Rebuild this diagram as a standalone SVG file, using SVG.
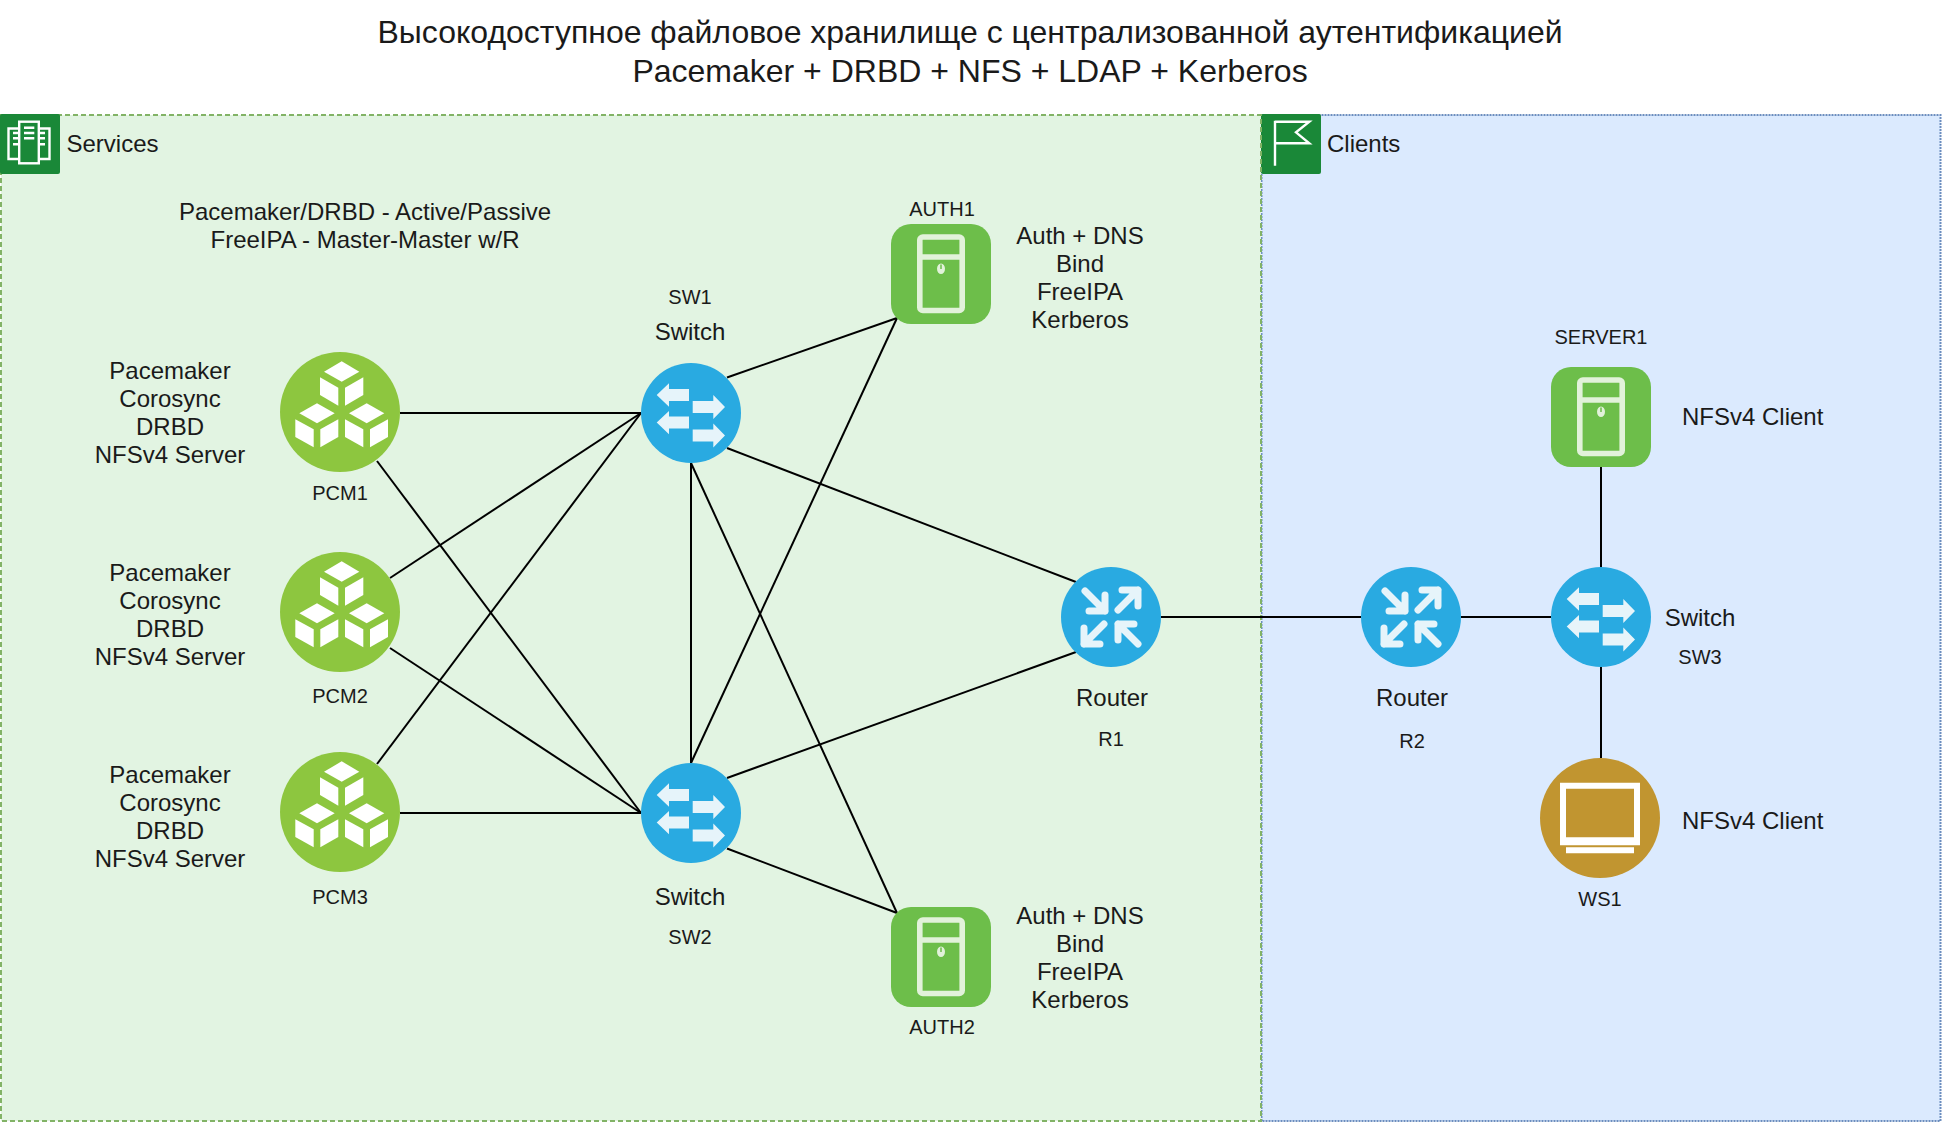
<svg xmlns="http://www.w3.org/2000/svg" width="1942" height="1124" viewBox="0 0 1942 1124">
<style>
text{font-family:"Liberation Sans",Arial,"Noto Sans",sans-serif;fill:#1a1a1a}
.l{font-size:24px;text-anchor:middle}
.s{font-size:20px;text-anchor:middle}
.st{font-size:24px}
.t{font-size:32px;text-anchor:middle}
#connectors line{stroke:#000;stroke-width:2;fill:none}
.ic{fill:none;stroke:#fff;stroke-width:2.400}
</style>
<defs>
<g id="sw"><circle r="50" fill="#29aae1"/><g fill="#e6f4fa">
<path id="al" d="M-34.3-18-22-29.7V-24H-2V-12H-22V-6.300Z"/><path d="M-34.300 9.600-22-2.100V3.600H-2V15.600H-22V21.300Z"/>
<path d="M34-6 22.300-18V-12H1.700V0H22.300V6Z"/><path d="M34 22.500 22.300 10.500V16.500H1.700V28.500H22.300V34.500Z"/></g></g>
<g id="rt"><circle r="50" fill="#29aae1"/><g fill="none" stroke="#e6f4fa" stroke-width="7" stroke-linecap="round" stroke-linejoin="round">
<path d="M-26-26-6-6M-6-22V-6H-22"/><path d="M7-7 27-27M11-27H27V-11"/><path d="M-7 7-27 27M-27 11V27H-11"/><path d="M27 27 7 7M7 23V7H23"/></g></g>
<g id="srv"><rect x="-50" y="-50" width="100" height="100" rx="20" fill="#6dbe4a"/><g fill="none" stroke="#e2f2da" stroke-width="5.600">
<rect x="-21.200" y="-37" width="42.400" height="73.500" rx="3"/><path d="M-21-17H21"/></g>
<ellipse cx="0" cy="-5.300" rx="4" ry="5.300" fill="#e2f2da"/><path d="M0-9.500V-5" stroke="#6dbe4a" stroke-width="1.500"/></g>
<g id="pcm"><circle r="60" fill="#8dc63f"/><g fill="#fff">
<path d="M1.700-50.700 19.300-40.300 1.700-30.300-16-40.300Z"/><path d="M-20-34.700-1.700-24.300V-6.300L-20-17Z"/><path d="M23.300-34.700 5-24.300V-6.300L23.300-17Z"/>
<path d="M-23-8.700-5.300 1.300-23 11.300-40.700 1.300Z"/><path d="M-44.700 7.300-26.300 17.300V35.300L-44.700 25Z"/><path d="M-1.700 7.300-19.700 17.300V35.300L-1.700 25Z"/>
<path d="M26.700-8.700 44.300 1.300 26.700 11.300 9 1.300Z"/><path d="M5 7.300 23.300 17.300V35.300L5 25Z"/><path d="M48 7.300 30 17.300V35.300L48 25Z"/></g></g>
</defs>
<rect width="1942" height="1124" fill="#fff"/>
<g id="title"><text class="t" x="970" y="43">Высокодоступное файловое хранилище с централизованной аутентификацией</text><text class="t" x="970" y="82">Pacemaker + DRBD + NFS + LDAP + Kerberos</text></g>
<g id="clients"><rect x="1261.500" y="115" width="679" height="1006" fill="#dbeafe" stroke="#6c8ebf" stroke-width="2" stroke-dasharray="2 1"/>
<rect x="1261" y="114" width="60" height="60" rx="2" fill="#1a8838"/><path class="ic" d="M1275 120.700V165.700M1275 121.700H1309.300L1296 132.300 1309.300 143.300H1275"/><text class="st" x="1327" y="152">Clients</text></g>
<g id="services"><rect x="1" y="115" width="1260" height="1006" fill="#e2f4e2" stroke="#82b366" stroke-width="2" stroke-dasharray="5 3"/>
<rect x="0" y="114" width="60" height="60" rx="2" fill="#1a8838"/><g class="ic"><rect x="19.200" y="121.700" width="19.600" height="41.600"/><path d="M19 128.500H8.500V159H19M39 128.500H49.500V159H39M24 127.700H34.300M24 133H34.300M24 138.300H34.300M13 133H18.500M13 138.300H18.500M13 144.300H18.500M40 133H45M40 138.300H45M40 144.300H45"/></g><text class="st" x="66.500" y="152">Services</text>
<text class="l" x="365" y="220">Pacemaker/DRBD - Active/Passive</text><text class="l" x="365" y="248">FreeIPA - Master-Master w/R</text></g>
<g id="connectors">
<line x1="400" y1="413" x2="641" y2="413"/><line x1="377" y1="461" x2="641" y2="813"/>
<line x1="390" y1="578" x2="641" y2="413"/><line x1="390" y1="648" x2="641" y2="813"/>
<line x1="377" y1="764" x2="641" y2="413"/><line x1="400" y1="813" x2="641" y2="813"/>
<line x1="727" y1="377.500" x2="897" y2="318"/><line x1="691" y1="763" x2="897" y2="318"/>
<line x1="691" y1="463" x2="691" y2="763"/><line x1="691" y1="463" x2="897" y2="913"/>
<line x1="727" y1="848.500" x2="897" y2="913"/><line x1="727" y1="448" x2="1076" y2="582"/>
<line x1="727" y1="778" x2="1076" y2="652"/><line x1="1161" y1="617" x2="1361" y2="617"/>
<line x1="1461" y1="617" x2="1551" y2="617"/><line x1="1601" y1="467" x2="1601" y2="567"/>
<line x1="1601" y1="667" x2="1601" y2="758"/>
</g>
<g id="PCM1"><use href="#pcm" x="340" y="412"/><text class="l" x="170" y="379">Pacemaker</text><text class="l" x="170" y="407">Corosync</text><text class="l" x="170" y="435">DRBD</text><text class="l" x="170" y="463">NFSv4 Server</text><text class="s" x="340" y="500">PCM1</text></g>
<g id="PCM2"><use href="#pcm" x="340" y="612"/><text class="l" x="170" y="581">Pacemaker</text><text class="l" x="170" y="609">Corosync</text><text class="l" x="170" y="637">DRBD</text><text class="l" x="170" y="665">NFSv4 Server</text><text class="s" x="340" y="703">PCM2</text></g>
<g id="PCM3"><use href="#pcm" x="340" y="812"/><text class="l" x="170" y="783">Pacemaker</text><text class="l" x="170" y="811">Corosync</text><text class="l" x="170" y="839">DRBD</text><text class="l" x="170" y="867">NFSv4 Server</text><text class="s" x="340" y="904">PCM3</text></g>
<g id="SW1"><use href="#sw" x="691" y="413"/><text class="s" x="690" y="304">SW1</text><text class="l" x="690" y="340">Switch</text></g>
<g id="SW2"><use href="#sw" x="691" y="813"/><text class="l" x="690" y="905">Switch</text><text class="s" x="690" y="944">SW2</text></g>
<g id="AUTH1"><use href="#srv" x="941" y="274"/><text class="s" x="942" y="216">AUTH1</text><text class="l" x="1080" y="244">Auth + DNS</text><text class="l" x="1080" y="272">Bind</text><text class="l" x="1080" y="300">FreeIPA</text><text class="l" x="1080" y="328">Kerberos</text></g>
<g id="AUTH2"><use href="#srv" x="941" y="957"/><text class="s" x="942" y="1034">AUTH2</text><text class="l" x="1080" y="924">Auth + DNS</text><text class="l" x="1080" y="952">Bind</text><text class="l" x="1080" y="980">FreeIPA</text><text class="l" x="1080" y="1008">Kerberos</text></g>
<g id="R1"><use href="#rt" x="1111" y="617"/><text class="l" x="1112" y="706">Router</text><text class="s" x="1111" y="746">R1</text></g>
<g id="R2"><use href="#rt" x="1411" y="617"/><text class="l" x="1412" y="706">Router</text><text class="s" x="1412" y="748">R2</text></g>
<g id="SW3"><use href="#sw" x="1601" y="617"/><text class="l" x="1700" y="626">Switch</text><text class="s" x="1700" y="664">SW3</text></g>
<g id="SERVER1"><use href="#srv" x="1601" y="417"/><text class="s" x="1601" y="344">SERVER1</text><text class="st" x="1682" y="425">NFSv4 Client</text></g>
<g id="WS1"><circle cx="1600" cy="818" r="60" fill="#c19530"/><path fill="#fff" fill-rule="evenodd" d="M1560 782.700H1640V845.300H1560ZM1566 788.700V837.300H1634V788.700ZM1566 847.300H1634V853.300H1566Z"/><text class="s" x="1600" y="906">WS1</text><text class="st" x="1682" y="829">NFSv4 Client</text></g>
</svg>
